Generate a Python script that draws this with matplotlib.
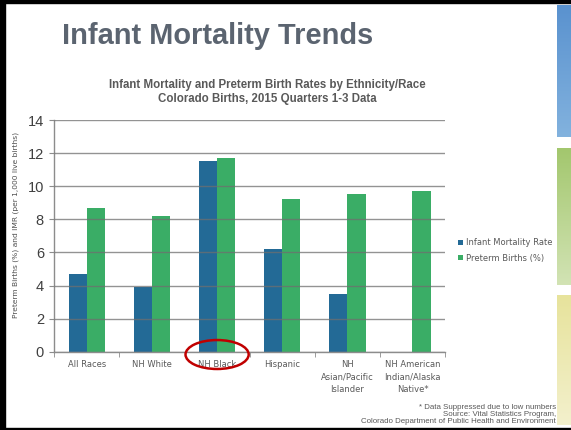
import numpy as np
import matplotlib
matplotlib.use("Agg")
import matplotlib.pyplot as plt
from matplotlib.patches import Ellipse, Rectangle
from matplotlib.colors import LinearSegmentedColormap

categories = ["All Races", "NH White", "NH Black", "Hispanic",
              "NH\nAsian/Pacific\nIslander", "NH American\nIndian/Alaska\nNative*"]
infant_mortality = [4.7, 3.9, 11.5, 6.2, 3.5, np.nan]
preterm_births = [8.7, 8.2, 11.7, 9.2, 9.5, 9.7]
y_ticks = [0, 2, 4, 6, 8, 10, 12, 14]

W, H = 571, 430
fig = plt.figure(figsize=(W / 100, H / 100), dpi=100)
fig.patch.set_facecolor("white")

def px(x, y):
    return x / W, 1 - y / H

# slide frame (black edges)
bg = fig.add_axes([0, 0, 1, 1], zorder=-5)
bg.axis("off")
bg.add_patch(Rectangle((0, 0), W, 3, color="black"))
bg.add_patch(Rectangle((0, 0), 5, H, color="black"))
bg.add_patch(Rectangle((0, 427.5), W, 3, color="black"))

# gradient bands along the right edge
def band(y0, y1, c_top, c_bot):
    cmap = LinearSegmentedColormap.from_list("b", [c_top, c_bot])
    grad = np.linspace(0, 1, 100).reshape(-1, 1)
    bg.imshow(grad, cmap=cmap, extent=(557, 571, y1, y0), aspect="auto", zorder=1)

band(5, 137, "#5a92cf", "#82b2de")
band(148, 285, "#a3c76e", "#d2e3b4")
band(295, 425, "#e7e39c", "#f3f0cc")
bg.set_xlim(0, W)
bg.set_ylim(H, 0)

# headings
fig.text(*px(62, 36), "Infant Mortality Trends", family="Liberation Sans",
         weight="bold", fontsize=20.9, color="#5b6470", va="center", ha="left")
fig.text(*px(267, 92), "Infant Mortality and Preterm Birth Rates by Ethnicity/Race\nColorado Births, 2015 Quarters 1-3 Data",
         family="Liberation Sans", weight="bold", fontsize=8.3, color="#595959",
         ha="center", va="center", linespacing=1.25)

# chart
l, b = 54.3 / W, 1 - 351.7 / H
ax = fig.add_axes([l, b, (445 - 54.3) / W, (351.7 - 120) / H])
x = np.arange(len(categories))
w = 0.28
blue, green = "#236a96", "#3aad66"
ax.bar(x - w / 2, infant_mortality, w, color=blue, label="Infant Mortality Rate", zorder=2)
ax.bar(x + w / 2, preterm_births, w, color=green, label="Preterm Births (%)", zorder=2)

ax.set_xlim(-0.5, len(categories) - 0.5)
ax.set_ylim(0, 14)
ax.set_yticks(y_ticks)
ax.yaxis.grid(True, color="#6f6f6f", alpha=0.75, lw=1.0, zorder=3)
ax.set_axisbelow(False)
for s in ["top", "right"]:
    ax.spines[s].set_visible(False)
for s in ["left", "bottom"]:
    ax.spines[s].set_color("#8c8c8c")
    ax.spines[s].set_linewidth(1.0)
ax.spines["bottom"].set_zorder(4)

ax.set_xticks(x)
ax.set_xticklabels(categories, family="DejaVu Sans", fontsize=6, color="#595959",
                   linespacing=1.5)
ax.tick_params(axis="x", which="major", length=0, pad=6)
ax.set_xticks(np.arange(-0.5, len(categories)), minor=True)
ax.tick_params(axis="x", which="minor", length=3.5, color="#8c8c8c")
ax.tick_params(axis="y", length=3.5, color="#8c8c8c", labelsize=10.5,
               labelcolor="#404040", pad=4)
for t in ax.get_yticklabels():
    t.set_family("Liberation Sans")

ax.set_ylabel("Preterm Births (%) and IMR (per 1,000 live births)",
              family="DejaVu Sans", fontsize=5.4, color="#4d4d4d")
ax.yaxis.set_label_coords((19 - 54.3) / (445 - 54.3), 0.545)

leg = ax.legend(loc="center left", bbox_to_anchor=(1.015, 0.437), frameon=False,
                prop={"family": "DejaVu Sans", "size": 6.05}, handlelength=0.55,
                handleheight=0.55, handletextpad=0.35, labelspacing=0.8)
for t in leg.get_texts():
    t.set_color("#595959")

# highlight around NH Black
ax.add_patch(Ellipse((2, -0.17), 0.97, 1.75, fill=False, ec="#c00000", lw=1.8,
                     clip_on=False, zorder=6, transform=ax.transData))

fig.text(*px(556, 425), "* Data Suppressed due to low numbers\nSource: Vital Statistics Program,\nColorado Department of Public Health and Environment",
         family="Liberation Sans", fontsize=5.7, color="#595959",
         ha="right", va="bottom", linespacing=1.0)

fig.savefig("out.png", dpi=100)
